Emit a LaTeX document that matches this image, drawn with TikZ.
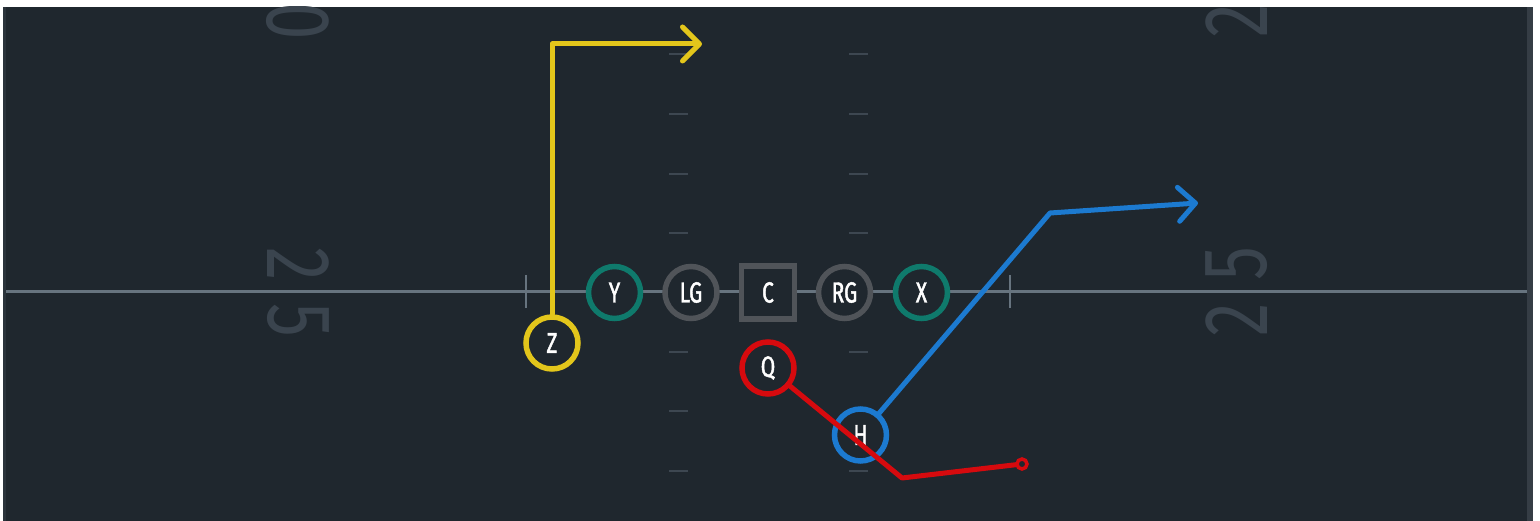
\documentclass[tikz,border=0pt]{standalone}
\usepackage{fontspec}
\usetikzlibrary{arrows.meta}
\newfontfamily\lblfont[FakeStretch=0.72,FakeBold=1.5]{Fira Sans}
\newfontfamily\numfont[FakeStretch=0.74]{Fira Sans}
\definecolor{fieldbg}{HTML}{1F272E}
\definecolor{edgeL}{HTML}{2A333B}
\definecolor{edgeR}{HTML}{353D45}
\definecolor{losline}{HTML}{67747F}
\definecolor{yardnum}{HTML}{3A444E}
\definecolor{hashc}{HTML}{3D4751}
\definecolor{tealc}{HTML}{0F7A6C}
\definecolor{olgray}{HTML}{505459}
\definecolor{yellowc}{HTML}{E3C61B}
\definecolor{redc}{HTML}{D60A0E}
\definecolor{bluec}{HTML}{1C7AD0}
\tikzset{
  player/.style={circle, draw, line width=5.5pt, minimum size=52pt, inner sep=0pt,
    fill=fieldbg, text=white, font=\lblfont\fontsize{29}{29}\selectfont},
  center/.style={rectangle, draw=olgray, line width=5.5pt, minimum size=53pt, inner sep=0pt,
    fill=fieldbg, text=white, font=\lblfont\fontsize{29}{29}\selectfont},
  route/.style={line width=5pt, line join=round, line cap=round},
  chev/.style={-{Straight Barb[length=17pt,width=34pt,line cap=round,line join=round]}},
  yardfig/.style={text=yardnum, inner sep=0pt, font=\numfont\fontsize{91}{91}\selectfont},
  hashmark/.style={draw=hashc, line width=2pt},
  tick/.style={draw=losline, line width=2pt},
}
\begin{document}
\begin{tikzpicture}[x=1pt,y=-1pt]
\useasboundingbox (0,0) rectangle (1540,521);
\fill[white] (0,0) rectangle (1540,521);
\fill[fieldbg] (3,7) rectangle (1533,521);
\fill[edgeL] (3,7) rectangle (6,521);
\fill[edgeR] (1527,7) rectangle (1533,521);
\begin{scope}
\clip (6,7) rectangle (1527,521);
% yard numbers
\node[yardfig, rotate=-90] (l0) at (298,21) {0};
\node[yardfig, rotate=-90] (l2) at (298,264) {2};
\node[yardfig, rotate=-90] (l5) at (298,320) {5};
\node[yardfig, rotate=90] (r2top) at (1237,21) {2};
\node[yardfig, rotate=90] (r5) at (1237,264) {5};
\node[yardfig, rotate=90] (r2) at (1237,320) {2};
% line of scrimmage
\draw[draw=losline, line width=3pt] (6,292) -- (1527,292);
\draw[tick] (526,275) -- (526,308);
\draw[tick] (1010,275) -- (1010,308);
% hash marks
\foreach \yy in {54,114,174,233,352,411,471}{
  \draw[hashmark] (669,\yy) -- (688,\yy);
  \draw[hashmark] (849,\yy) -- (868,\yy);
}
\end{scope}
% players
\node[player, draw=tealc] (Y) at (614.5,292.5) {Y};
\node[player, draw=olgray] (LG) at (691,292.5) {LG};
\node[center] (C) at (768,292.5) {C};
\node[player, draw=olgray] (RG) at (844.5,292.5) {RG};
\node[player, draw=tealc] (X) at (921.5,292.5) {X};
\node[player, draw=yellowc] (Z) at (552,343) {Z};
\node[player, draw=bluec] (H) at (860.5,435) {H};
\node[player, draw=redc] (Q) at (768,368) {Q};
% route points
\coordinate (zc) at (552,44);
\coordinate (ze) at (702,44);
\coordinate (hc) at (1050,213);
\coordinate (he) at (1198,203);
\coordinate (qc) at (902,478);
\coordinate (qe) at (1022,464);
% routes
\draw[route, yellowc, chev] (Z) -- (zc) -- (ze);
\draw[route, bluec, chev] (H) -- (hc) -- (he);
\draw[route, redc] (Q) -- (qc) -- (qe);
\node[circle, draw=redc, fill=fieldbg, line width=3.5pt, minimum size=10pt, inner sep=0pt] (qend) at (qe) {};
\end{tikzpicture}
\end{document}
